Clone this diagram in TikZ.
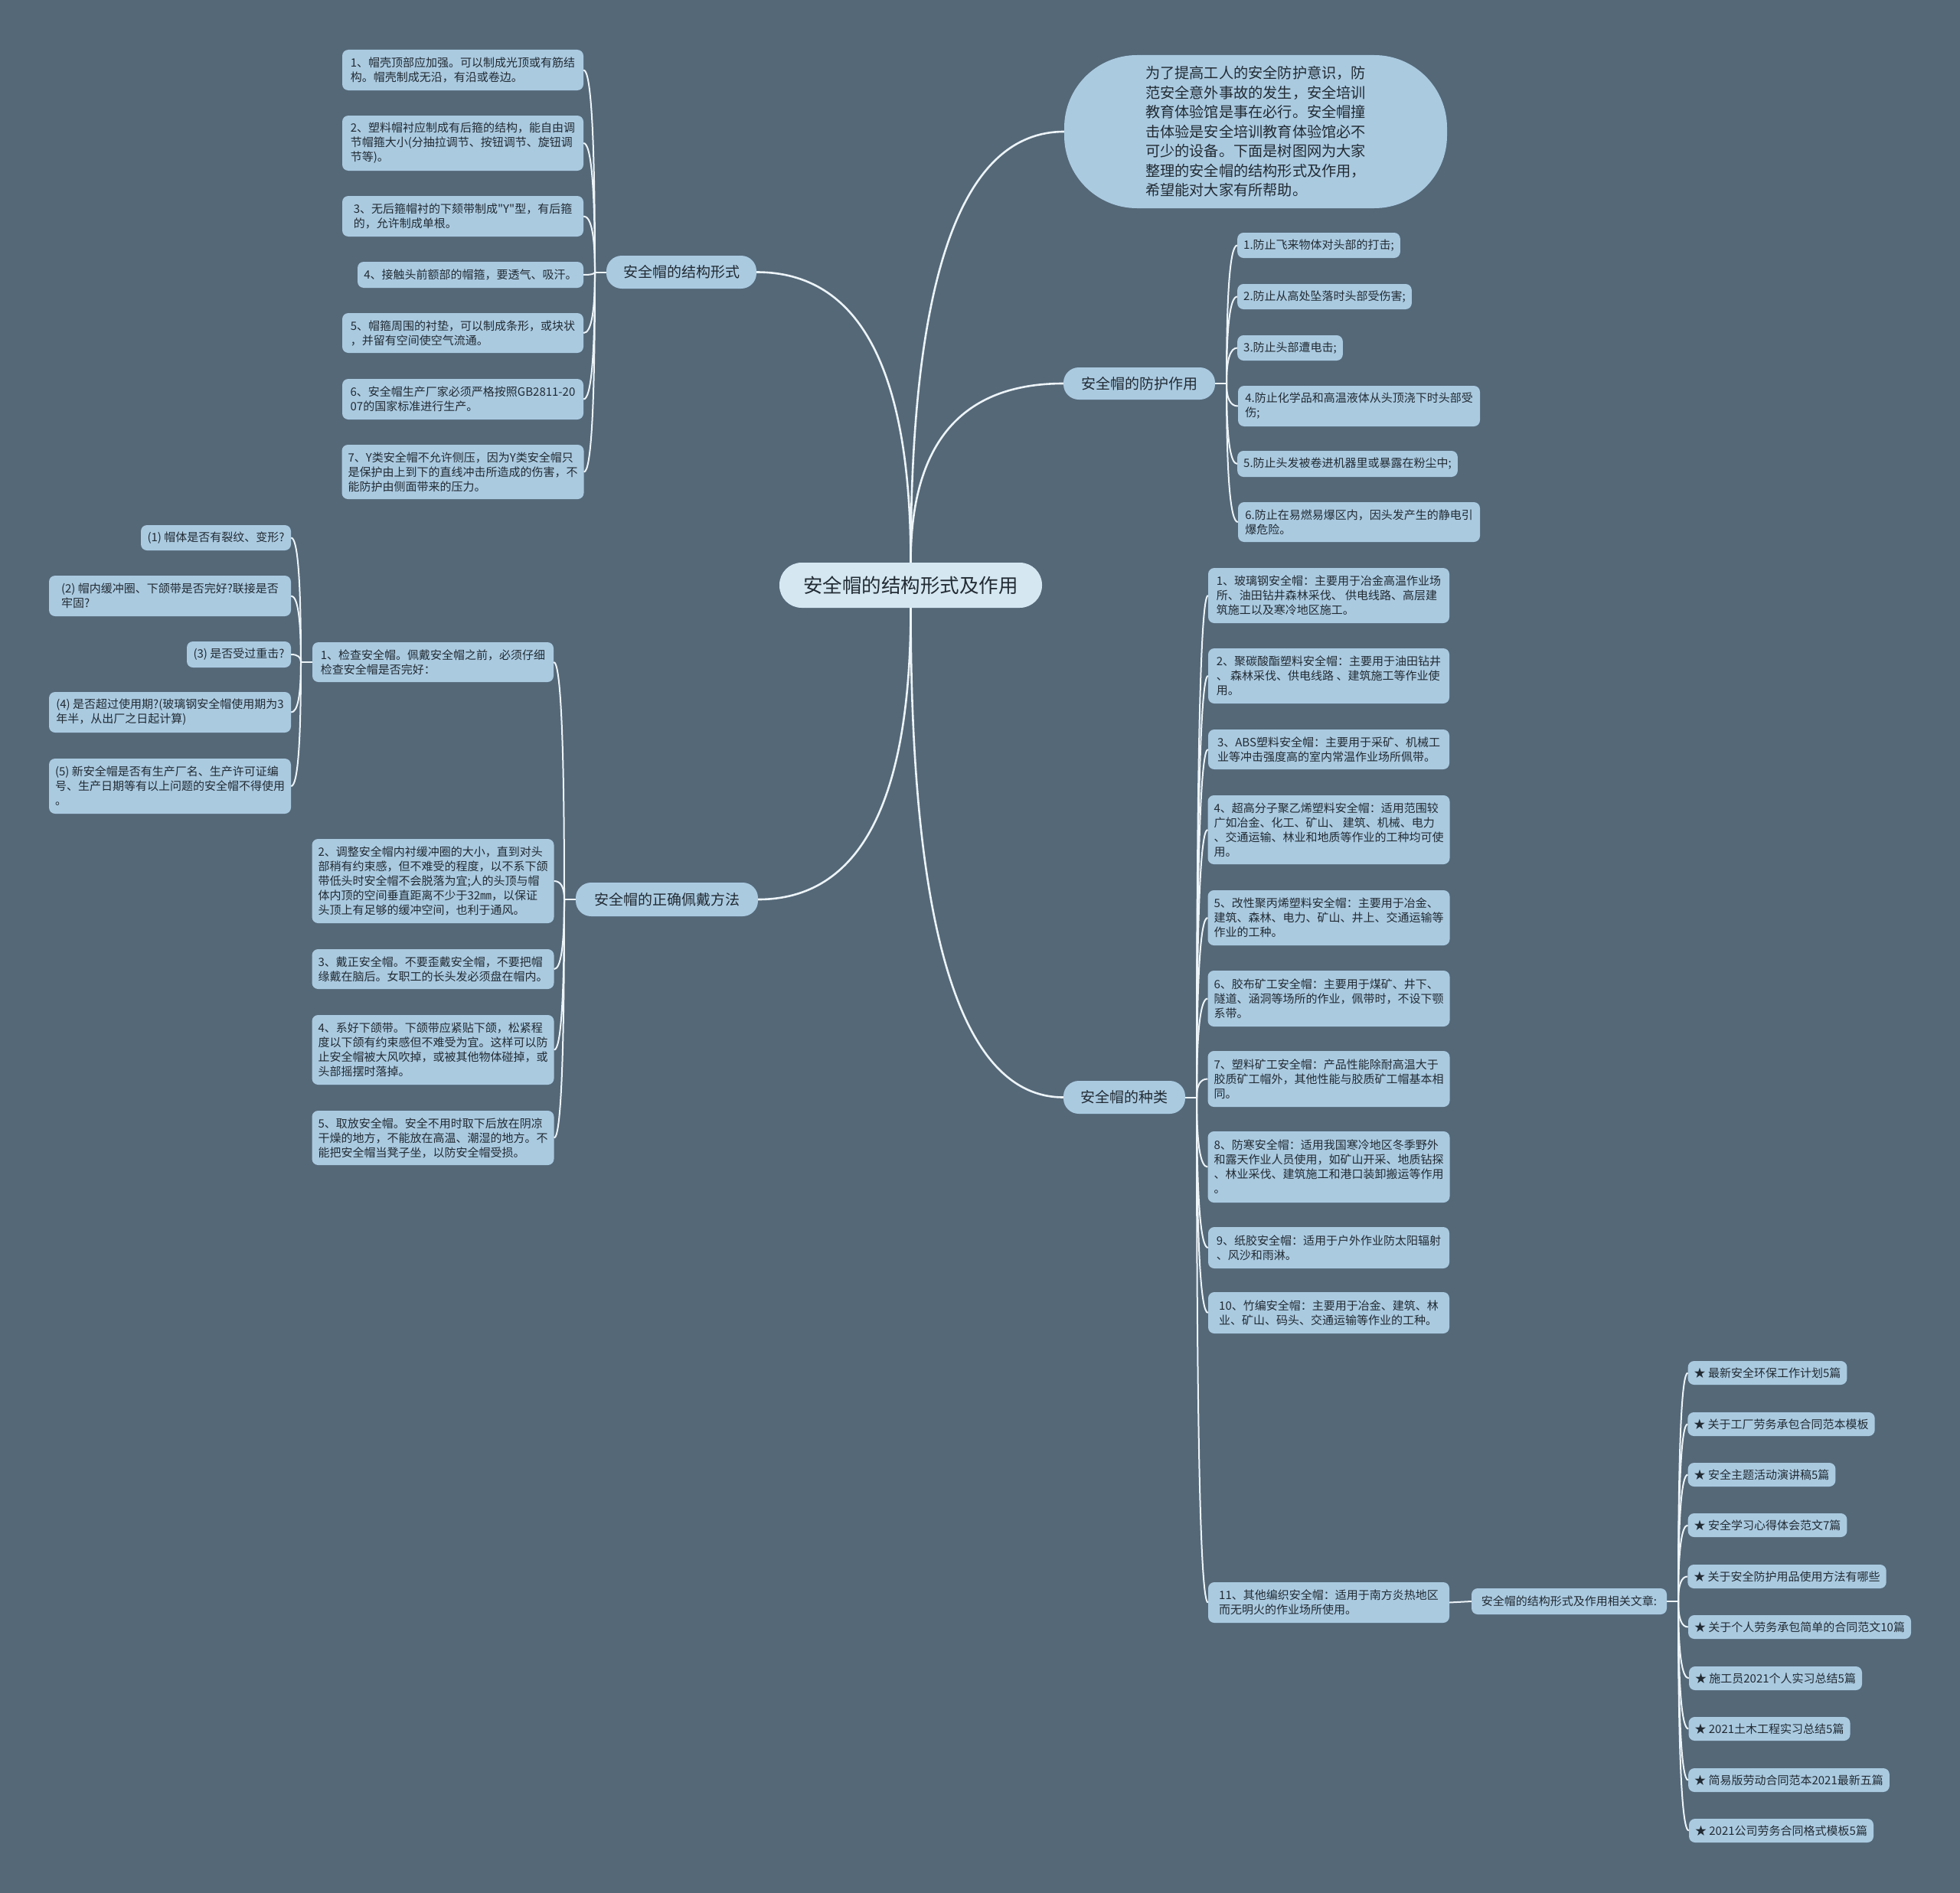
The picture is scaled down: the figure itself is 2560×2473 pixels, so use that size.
\documentclass[tikz,border=0pt]{standalone}
\usepackage{fontspec}
\setmainfont{Noto Sans CJK SC}[Ligatures=TeXOff]
\usetikzlibrary{calc}
\definecolor{bgc}{HTML}{546878}
\definecolor{leafc}{HTML}{AACAE0}
\definecolor{ctrc}{HTML}{D5E7F1}
\definecolor{linec}{HTML}{EDF4F8}
\definecolor{txtc}{HTML}{222B33}
\newcommand\LeafAt[6]{\node[leaf, minimum width={(#4-#2)*1pt}, minimum height={(#5-#3)*1pt}] (#1) at ({(#2+#4)/2},{(#3+#5)/2}) {#6};}
\begin{document}
\begin{tikzpicture}[x=1pt,y=-1pt,
 leaf/.style={fill=leafc, rounded corners=8pt, align=left, inner xsep=8pt, inner ysep=0pt, text=txtc, font=\fontsize{15}{19}\selectfont},
 branch/.style={fill=leafc, rounded corners=20pt, inner sep=0pt, text=txtc, font=\fontsize{19}{23}\selectfont},
 conn/.style={draw=linec, line width=2pt},
 mainc/.style={draw=linec, line width=2.6pt},
 qc/.style={to path={.. controls ($(\tikztostart)!0.6667!(\tikztostart|-\tikztotarget)$) and ($(\tikztotarget)!0.6667!(\tikztostart|-\tikztotarget)$) .. (\tikztotarget)}}]
\fill[bgc] (0,0) rectangle (2560,2473);
\useasboundingbox (0,0) rectangle (2560,2473);

% center and intro
\node[fill=ctrc, rounded corners=29pt, minimum width=343pt, minimum height=59pt, inner sep=0pt, font=\fontsize{25.5}{30}\selectfont, text=txtc] (ctr) at (1189.5,764.5) {安全帽的结构形式及作用};
\node[fill=leafc, rounded corners=95pt, minimum width=500pt, minimum height=200pt, align=left, inner sep=0pt, font=\fontsize{19.2}{25.5}\selectfont, text=txtc] (intro) at (1640,172) {为了提高工人的安全防护意识，防\\范安全意外事故的发生，安全培训\\教育体验馆是事在必行。安全帽撞\\击体验是安全培训教育体验馆必不\\可少的设备。下面是树图网为大家\\整理的安全帽的结构形式及作用，\\希望能对大家有所帮助。};

% branches
\node[branch, minimum width=196pt, minimum height=43pt] (b1) at (890,355.5) {安全帽的结构形式};
\node[branch, minimum width=198pt, minimum height=42pt] (b2) at (1488,501) {安全帽的防护作用};
\node[branch, minimum width=238pt, minimum height=44pt] (b3) at (871,1175) {安全帽的正确佩戴方法};
\node[branch, minimum width=159pt, minimum height=43pt] (b4) at (1468.5,1433.5) {安全帽的种类};

% structure leaves
\LeafAt{a1}{447}{65}{762}{118}{1、帽壳顶部应加强。可以制成光顶或有筋结\\构。帽壳制成无沿，有沿或卷边。}
\LeafAt{a2}{447}{151}{762}{223}{2、塑料帽衬应制成有后箍的结构，能自由调\\节帽箍大小(分抽拉调节、按钮调节、旋钮调\\节等)。}
\LeafAt{a3}{447}{256}{762}{309}{3、无后箍帽衬的下颏带制成"Y"型，有后箍\\的，允许制成单根。}
\LeafAt{a4}{467}{342}{762}{376}{4、接触头前额部的帽箍，要透气、吸汗。}
\LeafAt{a5}{447}{409}{762}{461}{5、帽箍周围的衬垫，可以制成条形，或块状\\，并留有空间使空气流通。}
\LeafAt{a6}{447}{495}{762}{548}{6、安全帽生产厂家必须严格按照GB2811-20\\07的国家标准进行生产。}
\LeafAt{a7}{447}{581}{762}{652}{7、Y类安全帽不允许侧压，因为Y类安全帽只\\是保护由上到下的直线冲击所造成的伤害，不\\能防护由侧面带来的压力。}

% protection leaves
\LeafAt{c1}{1617}{304}{1828}{337}{1.防止飞来物体对头部的打击;}
\LeafAt{c2}{1617}{371}{1843}{404}{2.防止从高处坠落时头部受伤害;}
\LeafAt{c3}{1617}{438}{1753}{471}{3.防止头部遭电击;}
\LeafAt{c4}{1617}{504}{1933}{557}{4.防止化学品和高温液体从头顶浇下时头部受\\伤;}
\LeafAt{c5}{1617}{589}{1903}{623}{5.防止头发被卷进机器里或暴露在粉尘中;}
\LeafAt{c6}{1617}{656}{1933}{708}{6.防止在易燃易爆区内，因头发产生的静电引\\爆危险。}

% wearing leaves
\LeafAt{w1}{408}{839}{723}{891}{1、检查安全帽。佩戴安全帽之前，必须仔细\\检查安全帽是否完好：}
\LeafAt{w2}{408}{1096}{723}{1206}{2、调整安全帽内衬缓冲圈的大小，直到对头\\部稍有约束感，但不难受的程度，以不系下颌\\带低头时安全帽不会脱落为宜;人的头顶与帽\\体内顶的空间垂直距离不少于32㎜，以保证\\头顶上有足够的缓冲空间，也利于通风。}
\LeafAt{w3}{408}{1240}{723}{1292}{3、戴正安全帽。不要歪戴安全帽，不要把帽\\缘戴在脑后。女职工的长头发必须盘在帽内。}
\LeafAt{w4}{408}{1326}{723}{1417}{4、系好下颌带。下颌带应紧贴下颌，松紧程\\度以下颌有约束感但不难受为宜。这样可以防\\止安全帽被大风吹掉，或被其他物体碰掉，或\\头部摇摆时落掉。}
\LeafAt{w5}{408}{1451}{723}{1522}{5、取放安全帽。安全不用时取下后放在阴凉\\干燥的地方，不能放在高温、潮湿的地方。不\\能把安全帽当凳子坐，以防安全帽受损。}

% check leaves
\LeafAt{q1}{184}{686}{380}{719}{(1) 帽体是否有裂纹、变形?}
\LeafAt{q2}{64}{752}{380}{805}{(2) 帽内缓冲圈、下颌带是否完好?联接是否\\牢固?}
\LeafAt{q3}{244}{838}{380}{872}{(3) 是否受过重击?}
\LeafAt{q4}{64}{904}{380}{957}{(4) 是否超过使用期?(玻璃钢安全帽使用期为3\\年半，从出厂之日起计算)}
\LeafAt{q5}{64}{991}{380}{1063}{(5) 新安全帽是否有生产厂名、生产许可证编\\号、生产日期等有以上问题的安全帽不得使用\\。}

% type leaves
\LeafAt{t1}{1578}{742}{1893}{814}{1、玻璃钢安全帽：主要用于冶金高温作业场\\所、油田钻井森林采伐、 供电线路、高层建\\筑施工以及寒冷地区施工。}
\LeafAt{t2}{1578}{847}{1893}{919}{2、聚碳酸酯塑料安全帽：主要用于油田钻井\\、 森林采伐、供电线路 、建筑施工等作业使\\用。}
\LeafAt{t3}{1578}{953}{1893}{1005}{3、ABS塑料安全帽：主要用于采矿、机械工\\业等冲击强度高的室内常温作业场所佩带。}
\LeafAt{t4}{1578}{1039}{1893}{1129}{4、超高分子聚乙烯塑料安全帽：适用范围较\\广如冶金、化工、矿山、 建筑、机械、电力\\、交通运输、林业和地质等作业的工种均可使\\用。}
\LeafAt{t5}{1578}{1163}{1893}{1235}{5、改性聚丙烯塑料安全帽：主要用于冶金、\\建筑、森林、电力、矿山、井上、交通运输等\\作业的工种。}
\LeafAt{t6}{1578}{1268}{1893}{1341}{6、胶布矿工安全帽：主要用于煤矿、井下、\\隧道、涵洞等场所的作业，佩带时，不设下颚\\系带。}
\LeafAt{t7}{1578}{1373}{1893}{1446}{7、塑料矿工安全帽：产品性能除耐高温大于\\胶质矿工帽外，其他性能与胶质矿工帽基本相\\同。}
\LeafAt{t8}{1578}{1478}{1893}{1571}{8、防寒安全帽：适用我国寒冷地区冬季野外\\和露天作业人员使用，如矿山开采、地质钻探\\、林业采伐、建筑施工和港口装卸搬运等作用\\。}
\LeafAt{t9}{1578}{1603}{1893}{1657}{9、纸胶安全帽：适用于户外作业防太阳辐射\\、风沙和雨淋。}
\LeafAt{t10}{1578}{1688}{1893}{1742}{10、竹编安全帽：主要用于冶金、建筑、林\\业、矿山、码头、交通运输等作业的工种。}
\LeafAt{t11}{1578}{2067}{1893}{2120}{11、其他编织安全帽：适用于南方炎热地区\\而无明火的作业场所使用。}

% related articles
\LeafAt{rel}{1922}{2075}{2177}{2109}{安全帽的结构形式及作用相关文章:}
\LeafAt{s1}{2206}{1778}{2411}{1809}{★ 最新安全环保工作计划5篇}
\LeafAt{s2}{2206}{1845}{2447}{1876}{★ 关于工厂劳务承包合同范本模板}
\LeafAt{s3}{2206}{1911}{2396}{1942}{★ 安全主题活动演讲稿5篇}
\LeafAt{s4}{2206}{1977}{2411}{2008}{★ 安全学习心得体会范文7篇}
\LeafAt{s5}{2206}{2044}{2462}{2075}{★ 关于安全防护用品使用方法有哪些}
\LeafAt{s6}{2206}{2110}{2495}{2141}{★ 关于个人劳务承包简单的合同范文10篇}
\LeafAt{s7}{2206}{2177}{2432}{2208}{★ 施工员2021个人实习总结5篇}
\LeafAt{s8}{2206}{2243}{2416}{2274}{★ 2021土木工程实习总结5篇}
\LeafAt{s9}{2206}{2310}{2467}{2341}{★ 简易版劳动合同范本2021最新五篇}
\LeafAt{s10}{2206}{2376}{2447}{2407}{★ 2021公司劳务合同格式模板5篇}

% main connectors
\draw[mainc] (ctr.north) to[qc] (intro.west);
\draw[mainc] (ctr.north) to[qc] (b2.west);
\draw[mainc] (ctr.north) to[qc] (b1.east);
\draw[mainc] (ctr.south) to[qc] (b3.east);
\draw[mainc] (ctr.south) to[qc] (b4.west);

% sub connectors
\coordinate (J1) at (777,355.5);
\draw[conn] (b1.west) -- (J1);
\foreach \n in {a1,a2,a3,a4,a5,a6,a7} \draw[conn] (J1) to[qc] (\n.east);

\coordinate (J2) at (1602,501);
\draw[conn] (b2.east) -- (J2);
\foreach \n in {c1,c2,c3,c4,c5,c6} \draw[conn] (J2) to[qc] (\n.west);

\coordinate (J3) at (737,1175);
\draw[conn] (b3.west) -- (J3);
\foreach \n in {w1,w2,w3,w4,w5} \draw[conn] (J3) to[qc] (\n.east);

\coordinate (Jw) at (393,865);
\draw[conn] (w1.west) -- (Jw);
\foreach \n in {q1,q2,q3,q4,q5} \draw[conn] (Jw) to[qc] (\n.east);

\coordinate (J4) at (1563,1433.5);
\draw[conn] (b4.east) -- (J4);
\foreach \n in {t1,t2,t3,t4,t5,t6,t7,t8,t9,t10,t11} \draw[conn] (J4) to[qc] (\n.west);

\draw[conn] (t11.east) -- (rel.west);
\coordinate (J5) at (2192,2092);
\draw[conn] (rel.east) -- (J5);
\foreach \n in {s1,s2,s3,s4,s5,s6,s7,s8,s9,s10} \draw[conn] (J5) to[qc] (\n.west);
\end{tikzpicture}
\end{document}
